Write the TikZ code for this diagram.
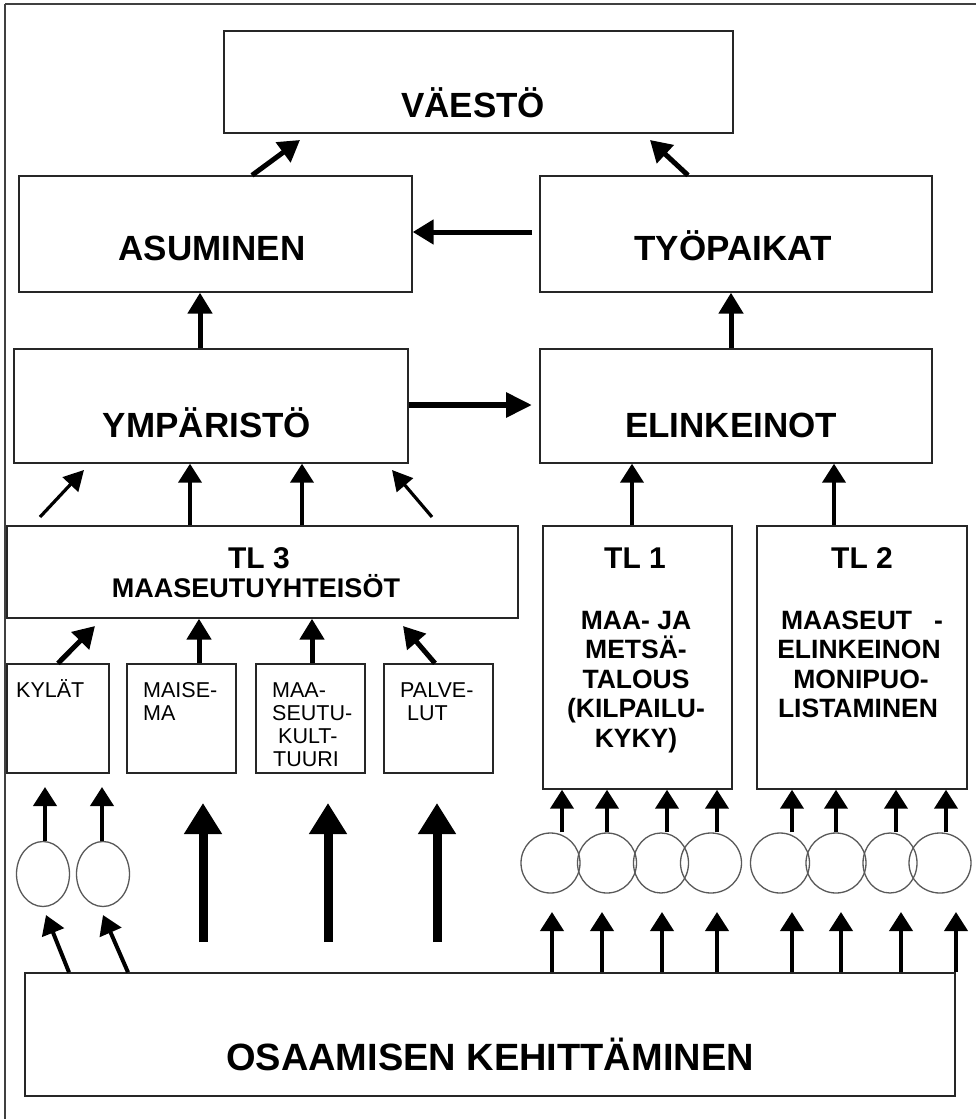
\documentclass[tikz,border=0pt]{standalone}
\usepackage{fontspec}
\setmainfont{Liberation Sans}
\usetikzlibrary{arrows.meta,shapes.geometric}
\begin{document}
\begin{tikzpicture}[x=1pt,y=-1pt,
  box/.style={draw=black!85,line width=1.4pt,inner sep=0pt},
  oval/.style={ellipse,draw=black!65,line width=1.3pt,inner sep=0pt},
  frame/.style={draw=black!75,line width=1.2pt},
  arr/.style={line width=5pt,-{Triangle[width=24pt,length=21pt]}},
  midarr/.style={line width=4pt,-{Triangle[width=23pt,length=19pt]}},
  thinarr/.style={line width=3.2pt,-{Triangle[width=21pt,length=20pt]}},
  bigarr/.style={line width=9pt,-{Triangle[width=36pt,length=31pt]}},
  bigtxt/.style={font=\bfseries\fontsize{35}{40}\selectfont,anchor=base,inner sep=0pt},
  headtxt/.style={font=\bfseries\fontsize{30}{34}\selectfont,anchor=base,inner sep=0pt},
  bodytxt/.style={font=\bfseries\fontsize{26.5}{30}\selectfont,anchor=base,inner sep=0pt},
  smalltxt/.style={font=\fontsize{21.5}{24}\selectfont,anchor=base west,inner sep=0pt},
]
\useasboundingbox (0,0) rectangle (976,1119);
\fill[white] (0,0) rectangle (976,1119);

% page frame (top and left edges)
\draw[frame] (5,4) -- (976,4);
\draw[frame] (5,4) -- (5,1119);

% main boxes
\node[box,minimum width=509pt,minimum height=102pt] (vaesto) at (478.5,82) {};
\node[box,minimum width=393pt,minimum height=116pt] (asum) at (215.5,234) {};
\node[box,minimum width=392pt,minimum height=116pt] (tyo) at (736,234) {};
\node[box,minimum width=394pt,minimum height=114pt] (ymp) at (211,406) {};
\node[box,minimum width=392pt,minimum height=114pt] (eli) at (736,406) {};
\node[box,minimum width=511pt,minimum height=92pt] (tl3) at (262.5,572) {};
\node[box,minimum width=189pt,minimum height=263pt] (tl1) at (637.5,657.5) {};
\node[box,minimum width=210pt,minimum height=263pt] (tl2) at (862,657.5) {};
\node[box,minimum width=102pt,minimum height=109pt] (kylat) at (58,718.5) {};
\node[box,minimum width=109pt,minimum height=109pt] (maisema) at (181.5,718.5) {};
\node[box,minimum width=109pt,minimum height=109pt] (kult) at (310.5,718.5) {};
\node[box,minimum width=109pt,minimum height=109pt] (palv) at (438.5,718.5) {};
\node[box,minimum width=930pt,minimum height=123pt] (osa) at (490,1034.5) {};

% labels
\node[bigtxt] (tvaesto) at (473,117) {VÄESTÖ};
\node[bigtxt] (tasum) at (212,260) {ASUMINEN};
\node[bigtxt] (ttyo) at (733,260) {TYÖPAIKAT};
\node[bigtxt] (tymp) at (207,437) {YMPÄRISTÖ};
\node[bigtxt] (teli) at (731,437) {ELINKEINOT};
\node[headtxt] (ttl3) at (259,568) {TL 3};
\node[font=\bfseries\fontsize{27}{30}\selectfont,anchor=base,inner sep=0pt] (ttl3b) at (256,597) {MAASEUTUYHTEISÖT};
\node[headtxt] (ttl1) at (635,568) {TL 1};
\node[headtxt] (ttl2) at (862,568) {TL 2};
\node[bodytxt] (tl1a) at (636,629) {MAA- JA};
\node[bodytxt] (tl1b) at (636,658) {METSÄ-};
\node[bodytxt] (tl1c) at (636,688) {TALOUS};
\node[bodytxt] (tl1d) at (636,717) {(KILPAILU-};
\node[bodytxt] (tl1e) at (636,747) {KYKY)};
\node[bodytxt] (tl2a) at (862,629) {MAASEUT\hspace{22pt}-};
\node[bodytxt] (tl2b) at (859,658) {ELINKEINON};
\node[bodytxt] (tl2c) at (861,688) {MONIPUO-};
\node[bodytxt] (tl2d) at (858,717) {LISTAMINEN};
\node[smalltxt] (sk1) at (16,697) {KYLÄT};
\node[smalltxt] (sm1) at (143,697) {MAISE-};
\node[smalltxt] (sm2) at (143,720) {MA};
\node[smalltxt] (sc1) at (272,697) {MAA-};
\node[smalltxt] (sc2) at (272,720) {SEUTU-};
\node[smalltxt] (sc3) at (278,743) {KULT-};
\node[smalltxt] (sc4) at (273,766) {TUURI};
\node[smalltxt] (sp1) at (400,697) {PALVE-};
\node[smalltxt] (sp2) at (407,720) {LUT};
\node[font=\bfseries\fontsize{38}{44}\selectfont,anchor=base,inner sep=0pt] (tosa) at (490,1070) {OSAAMISEN KEHITTÄMINEN};

% ovals and circles
\node[oval,minimum width=53pt,minimum height=65pt] (e1) at (43,874) {};
\node[oval,minimum width=53pt,minimum height=65pt] (e2) at (103,874) {};
\node[oval,minimum width=59pt,minimum height=60pt] (c1) at (550.5,863) {};
\node[oval,minimum width=59pt,minimum height=60pt] (c2) at (607,863) {};
\node[oval,minimum width=55pt,minimum height=60pt] (c3) at (661,863) {};
\node[oval,minimum width=61pt,minimum height=60pt] (c4) at (711,863) {};
\node[oval,minimum width=59pt,minimum height=60pt] (c5) at (780,863) {};
\node[oval,minimum width=60pt,minimum height=60pt] (c6) at (836,863) {};
\node[oval,minimum width=54pt,minimum height=60pt] (c7) at (890,863) {};
\node[oval,minimum width=62pt,minimum height=60pt] (c8) at (940,863) {};

% upper connectors
\coordinate (vL) at (300,140);
\coordinate (vR) at (650,140);
\draw[arr] (asum.north -| 252,0) -- (vL);
\draw[arr] (tyo.north -| 688,0) -- (vR);
\coordinate (tyoL) at (532,232);
\draw[arr] (tyoL) -- (tyoL -| asum.east);
\draw[arr] (ymp.north -| 200,0) -- (asum.south -| 200,0);
\draw[arr] (eli.north -| 731,0) -- (tyo.south -| 731,0);
\coordinate (yeT) at (532,405);
\draw[arr,line width=6pt,-{Triangle[width=24pt,length=26pt]}] (yeT -| ymp.east) -- (yeT);

% TL boxes to the middle row
\coordinate (d1s) at (40,517);
\coordinate (d1e) at (84,470);
\coordinate (d2s) at (432,517);
\coordinate (d2e) at (392,470);
\draw[thinarr] (d1s) -- (d1e);
\draw[thinarr] (d2s) -- (d2e);
\draw[midarr] (tl3.north -| 190,0) -- (ymp.south -| 190,0);
\draw[midarr] (tl3.north -| 302,0) -- (ymp.south -| 302,0);
\draw[midarr] (tl1.north -| 632,0) -- (eli.south -| 632,0);
\draw[midarr] (tl2.north -| 834,0) -- (eli.south -| 834,0);

% small boxes to TL 3
\coordinate (k1) at (95,626);
\coordinate (p1) at (403,626);
\draw[arr] (kylat.north) -- (k1);
\draw[arr] (maisema.north -| 199,0) -- (tl3.south -| 199,0);
\draw[arr] (kult.north -| 312,0) -- (tl3.south -| 312,0);
\draw[arr] (palv.north -| 435,0) -- (p1);

% ovals on the left
\coordinate (e1t) at (45,787);
\coordinate (e2t) at (102,787);
\draw[midarr] (e1.north -| 45,0) -- (e1t);
\draw[midarr] (e2.north -| 102,0) -- (e2t);
\coordinate (e1b) at (46,915);
\coordinate (e2b) at (103,915);
\draw[midarr] (osa.north -| 69,0) -- (e1b);
\draw[midarr] (osa.north -| 128,0) -- (e2b);

% wide arrows
\foreach \k/\x in {1/203,2/328,3/437}{
  \coordinate (bs\k) at (\x,942);
  \coordinate (be\k) at (\x,803);
  \draw[bigarr] (bs\k) -- (be\k);
}

% circles to TL 1 and TL 2, and from the bottom box
\foreach \i/\xt/\xb/\b in {1/562/552/tl1,2/607/602/tl1,3/667/662/tl1,4/717/717/tl1,
                           5/792/792/tl2,6/836/841/tl2,7/896/901/tl2,8/946/956/tl2}{
  \draw[midarr] (c\i.north -| \xt,0) -- (\b.south -| \xt,0);
  \coordinate (u\i) at (\xb,912);
  \draw[midarr] (osa.north -| \xb,0) -- (u\i);
}
\end{tikzpicture}
\end{document}
